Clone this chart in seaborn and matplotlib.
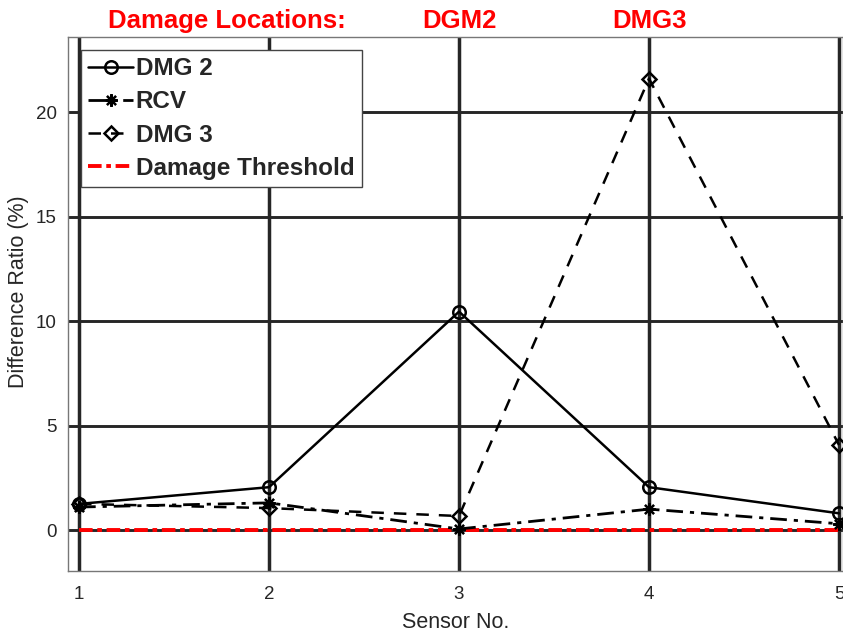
import matplotlib
matplotlib.use("Agg")
import matplotlib.pyplot as plt
import seaborn as sns
import pandas as pd

sensors = [1, 2, 3, 4, 5]
dmg2 = [1.25, 2.05, 10.45, 2.05, 0.8]
rcv = [1.1, 1.3, 0.05, 1.0, 0.3]
dmg3 = [1.25, 1.05, 0.67, 21.6, 4.07]
threshold = [0.0, 0.0, 0.0, 0.0, 0.0]

series_names = ["DMG 2", "RCV", "DMG 3", "Damage Threshold"]
location_labels = ["Damage Locations:", "DGM2", "DMG3"]

sns.set_theme(style="white")
plt.rcParams["font.family"] = ["Liberation Sans", "DejaVu Sans"]

df = pd.DataFrame({
    "Sensor": sensors * 4,
    "Value": dmg2 + rcv + dmg3 + threshold,
    "Series": sum([[n] * len(sensors) for n in series_names], []),
})

W, H = 843, 637
fig = plt.figure(figsize=(W / 100, H / 100), dpi=100)
ax_l, ax_t, ax_w, ax_h = 68, 37, 775, 534
ax = fig.add_axes([ax_l / W, (H - ax_t - ax_h) / H, ax_w / W, ax_h / H])

styles = {
    "DMG 2": dict(color="black", linestyle="-", marker="o", markersize=9,
                  markerfacecolor="none", markeredgewidth=1.8, lw=1.8),
    "RCV": dict(color="black", linestyle=(0, (6, 2.5, 1.5, 2.5)), marker=(8, 2, 0),
                markersize=9, markeredgewidth=1.6, lw=2.0),
    "DMG 3": dict(color="black", linestyle=(0, (5, 4)), marker="D", markersize=7.5,
                  markerfacecolor="none", markeredgewidth=1.8, lw=1.8),
    "Damage Threshold": dict(color="#ff0000", linestyle=(0, (3.5, 1.2, 1.2, 1.2)), lw=2.8),
}

for name in series_names:
    sub = df[df["Series"] == name]
    st = styles[name]
    sns.lineplot(data=sub, x="Sensor", y="Value", ax=ax, label=name,
                 color=st["color"], lw=st["lw"], linestyle=st["linestyle"],
                 marker=st.get("marker"), markersize=st.get("markersize", 0),
                 markerfacecolor=st.get("markerfacecolor", st["color"]),
                 markeredgecolor=st["color"],
                 markeredgewidth=st.get("markeredgewidth", 1.0),
                 zorder=5 if name != "Damage Threshold" else 4)

ax.set_xlim(0.942, 5.021)
ax.set_ylim(-1.96, 23.59)
ax.set_xticks(sensors)
ax.set_yticks([0, 5, 10, 15, 20])
ax.xaxis.grid(True, color="#262626", lw=2.5, zorder=0)
ax.yaxis.grid(True, color="#262626", lw=2.1, zorder=0)
ax.set_axisbelow(True)
for s in ax.spines.values():
    s.set_color("#777777")
    s.set_linewidth(1.0)
ax.tick_params(axis="both", labelsize=13.5, colors="#262626", length=0)
ax.tick_params(axis="x", pad=11)
ax.tick_params(axis="y", pad=8)

ax.set_xlabel("Sensor No.", fontsize=15.5, color="#262626", labelpad=6)
ax.set_ylabel("Difference Ratio (%)", fontsize=15.5, color="#262626")
ax.yaxis.set_label_coords((29 - ax_l) / ax_w, (ax_t + ax_h - 292) / ax_h)

leg = ax.legend(loc="upper left",
                bbox_to_anchor=((81 - ax_l) / ax_w, 1 - (50 - ax_t) / ax_h),
                prop={"weight": "bold", "size": 17.5}, handlelength=1.85,
                handletextpad=0.1, borderpad=0.3, labelspacing=0.42,
                borderaxespad=0.0, frameon=True, fancybox=False)
leg.get_frame().set_edgecolor("#444444")
leg.get_frame().set_linewidth(1.0)
leg.get_frame().set_alpha(1.0)
leg.set_zorder(10)

title_x = [227, 459, 649]
for lbl, px in zip(location_labels, title_x):
    fig.text(px / W, 1 - 21 / H, lbl, color="#ff0000", fontsize=18.5,
             fontweight="bold", ha="center", va="center")

fig.savefig("out.png", dpi=100)
